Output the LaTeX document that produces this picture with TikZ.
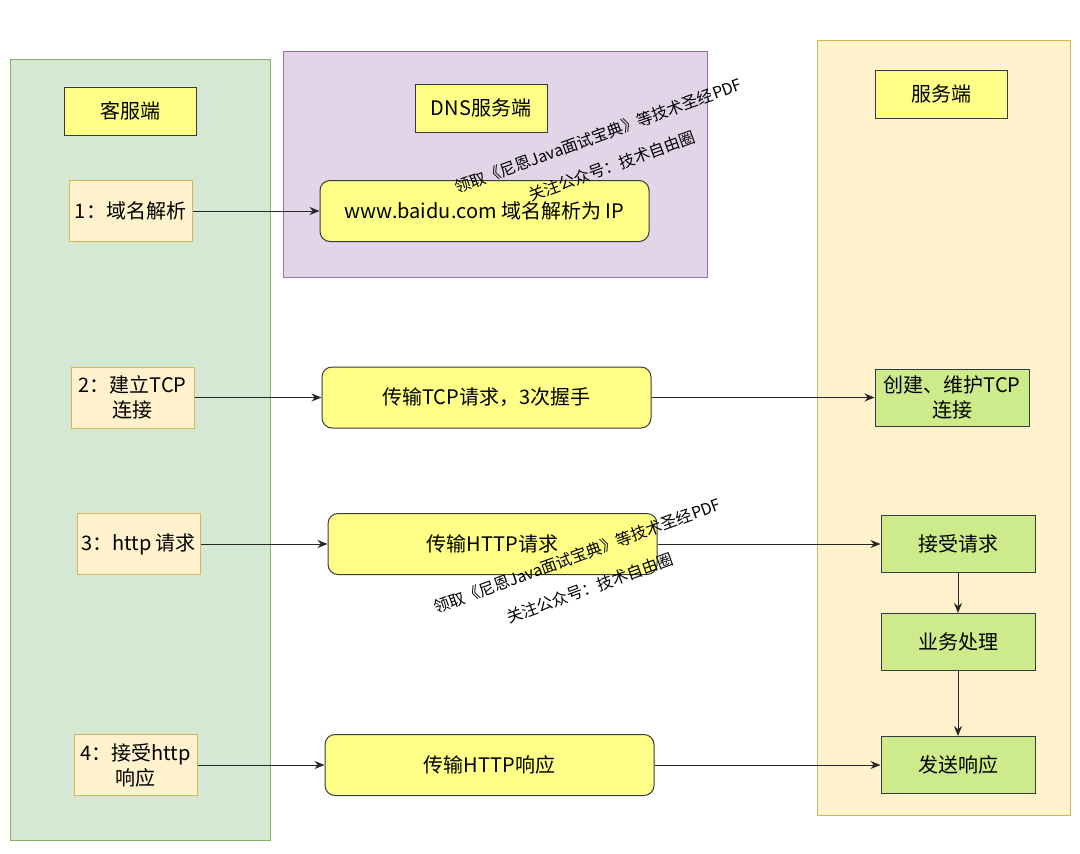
\documentclass[tikz,border=0pt]{standalone}
\usepackage{fontspec}
\setmainfont{Noto Sans CJK SC}
\usetikzlibrary{arrows.meta}

\definecolor{lanegreen}{HTML}{D5E8D4}
\definecolor{lanegreenline}{HTML}{82B366}
\definecolor{lanepurple}{HTML}{E1D5E7}
\definecolor{lanepurpleline}{HTML}{9673A6}
\definecolor{laneyellow}{HTML}{FFF2CC}
\definecolor{laneyellowline}{HTML}{D6B656}
\definecolor{notefill}{HTML}{FFFF88}
\definecolor{greenfill}{HTML}{CDEB8B}
\definecolor{boxline}{HTML}{36393D}

\begin{document}
\begin{tikzpicture}[
        x=0.5pt, y=-0.5pt,
        every node/.style={font=\fontsize{10}{12.5}\selectfont, align=center, inner sep=0pt},
        title/.style={rectangle, draw=boxline, fill=notefill, line width=0.5pt, minimum width=66pt, minimum height=24pt},
        client/.style={rectangle, draw=laneyellowline, fill=laneyellow, line width=0.5pt, minimum width=61.5pt, minimum height=30.5pt},
        transfer/.style={rectangle, rounded corners=5pt, draw=boxline, fill=notefill, line width=0.5pt, minimum width=164.5pt, minimum height=30.5pt},
        server/.style={rectangle, draw=boxline, fill=greenfill, line width=0.5pt, minimum width=77pt, minimum height=28.5pt},
        flow/.style={-{Stealth[length=5pt,width=4pt]}, line width=0.5pt, draw=black!85},
        mark_text/.style={font=\fontsize{8}{9}\selectfont, rotate=20}
    ]
        % Canvas
        \useasboundingbox[fill=white] (0,0) rectangle (1080,853);

        % Lanes
        \filldraw[fill=lanegreen, draw=lanegreenline, line width=0.5pt] (10,59) rectangle (270,840);
        \filldraw[fill=lanepurple, draw=lanepurpleline, line width=0.5pt] (283,51) rectangle (707,277);
        \filldraw[fill=laneyellow, draw=laneyellowline, line width=0.5pt] (817,40) rectangle (1070,815);

        % Lane titles
        \node[title] (client_title) at (130,111) {客服端};
        \node[title] (dns_title) at (481,108) {DNS服务端};
        \node[title] (server_title) at (941,94) {服务端};

        % Client steps
        \node[client] (step1) at (130.5,211) {1：域名解析};
        \node[client] (step2) at (132.5,397.5) {2：建立TCP\\连接};
        \node[client] (step3) at (138.5,544) {3：http 请求};
        \node[client] (step4) at (135.5,765) {4：接受http\\响应};

        % Transfers
        \node[transfer] (dns_lookup) at (484.5,211) {www.baidu.com 域名解析为 IP};
        \node[transfer] (tcp_send) at (486.5,397.5) {传输TCP请求，3次握手};
        \node[transfer] (http_send) at (492.5,544) {传输HTTP请求};
        \node[transfer] (http_reply) at (489.5,765) {传输HTTP响应};

        % Server steps
        \node[server] (tcp_keep) at (952,397.5) {创建、维护TCP\\连接};
        \node[server] (accept_req) at (958,544) {接受请求};
        \node[server] (handle_req) at (958,642) {业务处理};
        \node[server] (send_reply) at (958,765) {发送响应};

        % Connections
        \draw[flow] (step1) -- (dns_lookup);
        \draw[flow] (step2) -- (tcp_send);
        \draw[flow] (tcp_send) -- (tcp_keep);
        \draw[flow] (step3) -- (http_send);
        \draw[flow] (http_send) -- (accept_req);
        \draw[flow] (accept_req) -- (handle_req);
        \draw[flow] (handle_req) -- (send_reply);
        \draw[flow] (step4) -- (http_reply);
        \draw[flow] (http_reply) -- (send_reply);

        % Overlaid notes
        \node[mark_text] (mark1a) at (598,136) {领取《尼恩Java面试宝典》等技术圣经PDF};
        \node[mark_text] (mark1b) at (612,166) {关注公众号：技术自由圈};
        \node[mark_text] (mark2a) at (577,556) {领取《尼恩Java面试宝典》等技术圣经PDF};
        \node[mark_text] (mark2b) at (590,588) {关注公众号：技术自由圈};

    \end{tikzpicture}
\end{document}
